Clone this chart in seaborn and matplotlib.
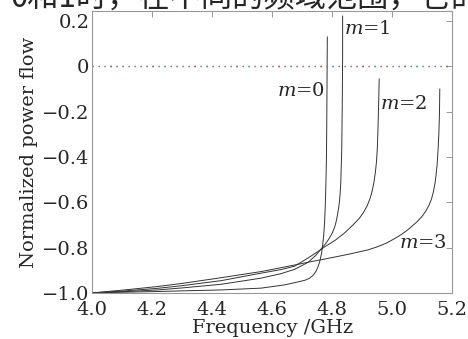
"""
Normalized power flow versus frequency for modes m=0..3.
"""

import numpy as np
import pandas as pd
import matplotlib
matplotlib.use("Agg")
import matplotlib.pyplot as plt
from matplotlib.ticker import FuncFormatter
import seaborn as sns

# values
freq_m0 = [4.00, 4.10, 4.217, 4.30, 4.43, 4.563, 4.64, 4.675, 4.71, 4.725, 4.737, 4.746,
           4.753, 4.759, 4.764, 4.768, 4.772, 4.775, 4.777, 4.779, 4.781, 4.782, 4.783,
           4.784]
flow_m0 = [-1.00, -0.997, -0.994, -0.991, -0.987, -0.979, -0.965, -0.955, -0.944, -0.935,
           -0.922, -0.905, -0.885, -0.86, -0.83, -0.795, -0.745, -0.685, -0.62, -0.53,
           -0.41, -0.27, -0.08, 0.13]

freq_m1 = [4.00, 4.10, 4.217, 4.30, 4.43, 4.563, 4.63, 4.675, 4.72, 4.745, 4.764, 4.78,
           4.79, 4.80, 4.808, 4.813, 4.818, 4.822, 4.825, 4.827, 4.829, 4.830, 4.832,
           4.833, 4.834, 4.835, 4.835]
flow_m1 = [-1.00, -0.995, -0.987, -0.978, -0.962, -0.935, -0.915, -0.896, -0.865, -0.835,
           -0.805, -0.78, -0.76, -0.737, -0.712, -0.688, -0.655, -0.622, -0.591, -0.555,
           -0.51, -0.46, -0.37, -0.26, -0.14, 0.05, 0.222]

freq_m2 = [4.00, 4.10, 4.217, 4.30, 4.43, 4.563, 4.63, 4.675, 4.721, 4.75, 4.774, 4.81,
           4.841, 4.87, 4.89, 4.905, 4.917, 4.926, 4.933, 4.939, 4.944, 4.948, 4.951,
           4.953, 4.955, 4.957]
flow_m2 = [-1.00, -0.992, -0.98, -0.968, -0.946, -0.913, -0.897, -0.882, -0.845, -0.82,
           -0.798, -0.768, -0.736, -0.70, -0.672, -0.645, -0.615, -0.585, -0.553, -0.515,
           -0.47, -0.42, -0.355, -0.27, -0.17, -0.055]

freq_m3 = [4.00, 4.10, 4.217, 4.30, 4.43, 4.563, 4.675, 4.73, 4.77, 4.808, 4.86, 4.92,
           4.95, 4.98, 5.005, 5.03, 5.05, 5.066, 5.085, 5.10, 5.113, 5.123, 5.131, 5.137,
           5.142, 5.146, 5.150, 5.153, 5.156, 5.158, 5.159]
flow_m3 = [-1.00, -0.988, -0.972, -0.958, -0.933, -0.906, -0.877, -0.862, -0.852, -0.842,
           -0.828, -0.81, -0.797, -0.781, -0.763, -0.743, -0.724, -0.706, -0.684, -0.662,
           -0.638, -0.613, -0.587, -0.558, -0.524, -0.486, -0.435, -0.375, -0.295, -0.20,
           -0.10]

modes = ["0", "1", "2", "3"]
label_f = [4.775, 4.841, 4.959, 5.022]
label_v = [-0.108, 0.165, -0.165, -0.78]
label_ha = ["right", "left", "left", "left"]

xticks = [4.0, 4.2, 4.4, 4.6, 4.8, 5.0, 5.2]
yticks = [-1.0, -0.8, -0.6, -0.4, -0.2, 0.0, 0.2]

caption = "0和1时，在不同的频域范围，它的归一"


def build_frame():
    parts = []
    for m, f, p in zip(modes, [freq_m0, freq_m1, freq_m2, freq_m3],
                       [flow_m0, flow_m1, flow_m2, flow_m3]):
        parts.append(pd.DataFrame({"freq": f, "flow": p, "m": m}))
    return pd.concat(parts, ignore_index=True)


def main():
    sns.set_style("white")
    plt.rcParams["font.family"] = ["DejaVu Serif"]
    plt.rcParams["mathtext.fontset"] = "dejavuserif"

    df = build_frame()

    fig = plt.figure(figsize=(4.68, 3.39), dpi=100)
    ax = fig.add_axes([0.197, 0.136, 0.769, 0.831])

    sns.lineplot(data=df, x="freq", y="flow", hue="m", units="m",
                 estimator=None, sort=False, legend=False,
                 palette=["#333333"] * 4, linewidth=0.7, ax=ax)

    # dotted zero line with the speckled colours of the print
    pitch = 4.32
    ax.axhline(0, color="#555577", lw=1.0, ls=(0, (0.9, pitch - 0.9)))
    ax.axhline(0, color="#dd3333", lw=1.0, ls=(pitch * 4, (0.9, pitch * 7 - 0.9)))
    ax.axhline(0, color="#22bbaa", lw=1.0, ls=(pitch * 2, (0.9, pitch * 7 - 0.9)))
    ax.axhline(0, color="#77aa44", lw=1.0, ls=(pitch * 6, (0.9, pitch * 5 - 0.9)))

    for m, f, v, ha in zip(modes, label_f, label_v, label_ha):
        ax.text(f, v, "$m$=" + m, ha=ha, va="center", fontsize=14)

    ax.set_xlim(4.0, 5.2)
    ax.set_ylim(-1.0, 0.243)
    ax.set_xticks(xticks)
    ax.set_yticks(yticks)
    ax.yaxis.set_major_formatter(FuncFormatter(
        lambda v, pos: "0" if abs(v) < 1e-9 else f"{v:.1f}".replace("-", "\u2212")))
    ax.xaxis.set_major_formatter(FuncFormatter(lambda v, pos: f"{v:.1f}"))
    ax.tick_params(direction="in", length=4, width=0.6, color="#888888",
                   top=True, right=True, labelsize=14, pad=2)
    ax.tick_params(axis="x", pad=5.5)
    for s in ax.spines.values():
        s.set_color("#999999")
        s.set_linewidth(0.8)

    ax.set_xlabel("Frequency /GHz", fontsize=14, labelpad=0)
    ax.set_ylabel("Normalized power flow", fontsize=14, labelpad=3)

    # caption line of the page, cut by the top edge of the crop
    fig.text(11 / 468, 1 - 14 / 339, caption, fontsize=22.5, va="bottom", ha="left",
             family=["Noto Sans CJK SC", "DejaVu Sans"])

    fig.savefig("out.png", dpi=100)


if __name__ == "__main__":
    main()
